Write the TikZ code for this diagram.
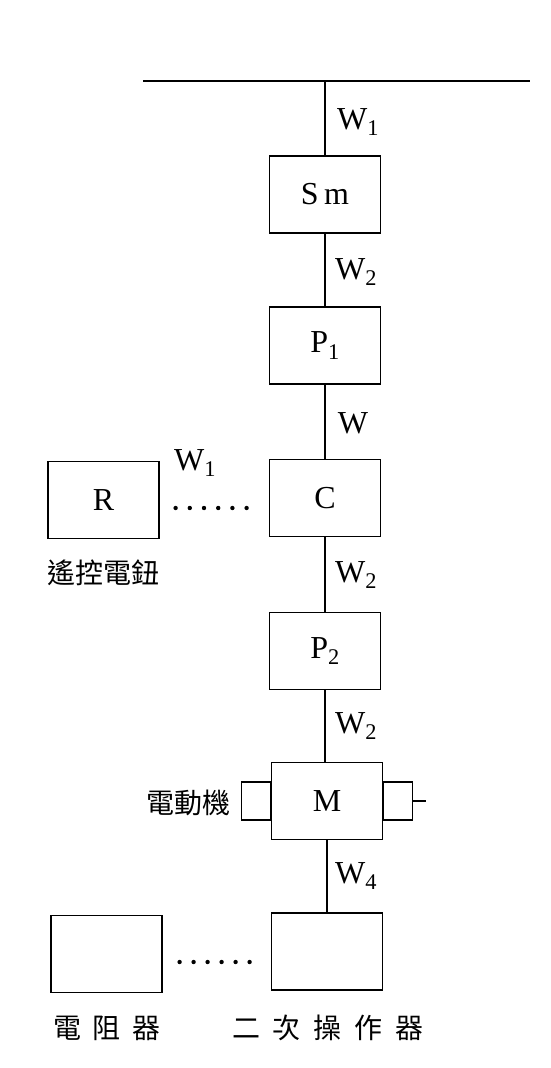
\documentclass[tikz,border=0pt]{standalone}
\usepackage{fontspec}
\setmainfont{Liberation Serif}
\newfontfamily\cjk{Noto Sans CJK TC}
\usetikzlibrary{positioning,calc}

\tikzset{
  blk/.style={draw, line width=1.2pt, minimum width=111pt, minimum height=77pt,
    inner sep=0pt, font=\fontsize{32}{34}\selectfont},
  side/.style={draw, line width=1.2pt, minimum width=29pt, minimum height=38pt, inner sep=0pt},
  wire/.style={line width=1.2pt},
  wlbl/.style={font=\fontsize{32}{34}\selectfont, inner sep=0pt},
  cjklbl/.style={font=\cjk\fontsize{28}{30}\selectfont, inner sep=0pt}
}

\begin{document}
\begin{tikzpicture}[x=1pt,y=-1pt]
  \useasboundingbox (0,0) rectangle (550,1068);
  % bus line
  \coordinate (busl) at (143,81);
  \coordinate (busr) at (530,81);
  \coordinate (tap) at (325,81);
  \draw[wire] (busl) -- (busr);

  % main chain
  \node[blk] (Sm) at (325,194.5) {S\,m};
  \node[blk] (P1) at (325,345.5) {P\textsubscript{1}};
  \node[blk] (C) at (325,498) {C};
  \node[blk] (P2) at (325,651) {P\textsubscript{2}};
  \node[blk] (M) at (327,801) {M};
  \node[blk] (op) at (327,951.5) {};

  % motor ends
  \node[side, anchor=east] (ml) at (M.west) {};
  \node[side, anchor=west] (mr) at (M.east) {};
  \coordinate[right=13pt of mr.east] (shaft);
  \draw[wire] (mr.east) -- (shaft);

  % side boxes
  \node[blk] (R) at (103.5,500) {R};
  \node[blk] (res) at (106.5,954) {};

  % wires
  \draw[wire] (tap) -- (Sm.north);
  \draw[wire] (Sm) -- (P1);
  \draw[wire] (P1) -- (C);
  \draw[wire] (C) -- (P2);
  \draw[wire] (P2.south) -- (P2.south |- M.north);
  \draw[wire] (M) -- (op);
  \foreach \i in {0,...,5}{
    \fill ($(R.east)+(16+14.2*\i,8)$) circle (2.2pt);
    \fill ($(res.east)+(17+14*\i,8)$) circle (2.2pt);
  }

  % wire labels
  \node[wlbl] (w1) at (358,122) {W\textsubscript{1}};
  \node[wlbl] (w2) at (356,272) {W\textsubscript{2}};
  \node[wlbl] (w3) at (353,423) {W};
  \node[wlbl] (w4) at (195,463) {W\textsubscript{1}};
  \node[wlbl] (w5) at (356,575) {W\textsubscript{2}};
  \node[wlbl] (w6) at (356,726) {W\textsubscript{2}};
  \node[wlbl] (w7) at (356,876) {W\textsubscript{4}};

  % names
  \node[cjklbl] (nR) at (103,573) {遙控電鈕};
  \node[cjklbl] (nM) at (188,803) {電動機};
  \node[cjklbl] (nres) at (107,1028) {電\hspace{12pt}阻\hspace{12pt}器};
  \node[cjklbl] (nop) at (328,1028) {二\hspace{13pt}次\hspace{13pt}操\hspace{13pt}作\hspace{13pt}器};
\end{tikzpicture}
\end{document}
